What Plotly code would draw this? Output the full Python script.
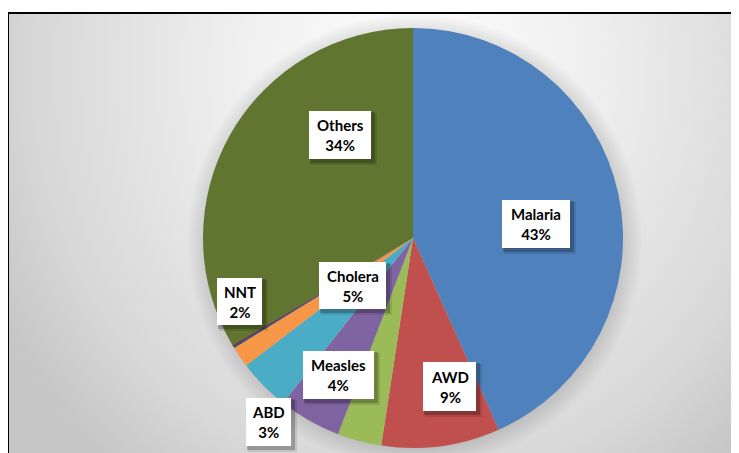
import base64
import plotly.graph_objects as go

# ---- data ----
categories = ["Malaria", "AWD", "ABD", "Cholera", "Measles", "NNT", "Unlabelled 1", "Unlabelled 2", "Others"]
values = [43.3, 9.1, 3.4, 4.8, 4.0, 1.6, 0.15, 0.12, 33.5]
colors = ["#4F81BD", "#C0504D", "#9BBB59", "#8064A2", "#4BACC6", "#F79646", "#2C4D75", "#772C2A", "#5F7530"]
label_names = ["Malaria", "AWD", "ABD", "Measles", "Cholera", "NNT", "Others"]
label_pcts = ["43%", "9%", "3%", "4%", "5%", "2%", "34%"]
# label box positions in screen pixels (x0, y0, x1, y1)
label_boxes = [(502, 200, 570, 248), (423, 362, 476, 411), (246, 398, 291, 446),
               (303, 351, 374, 399), (319, 262, 386, 309), (217, 278, 262, 325),
               (309, 111, 371, 159)]

OFF = 8  # page body margin
W, H = 739, 453
CX, CY, R = 413, 238, 210

def px(x):
    return (x - OFF) / W

def py(y):
    return 1 - (y - OFF) / H

svg = f'''<svg xmlns="http://www.w3.org/2000/svg" width="{W}" height="{H}" viewBox="{OFF} {OFF} {W} {H}">
<defs>
<radialGradient id="bg" gradientUnits="userSpaceOnUse" cx="413" cy="70" r="470" gradientTransform="translate(413 70) scale(1 1.1) translate(-413 -70)">
<stop offset="0" stop-color="#ffffff"/>
<stop offset="0.4" stop-color="#eeeeee"/>
<stop offset="0.8" stop-color="#d8d8d8"/>
<stop offset="1" stop-color="#c6c6c6"/>
</radialGradient>
<radialGradient id="sh" gradientUnits="userSpaceOnUse" cx="{CX+2}" cy="{CY+3}" r="{R+18}">
<stop offset="0.9" stop-color="#000000" stop-opacity="0.15"/>
<stop offset="1" stop-color="#000000" stop-opacity="0"/>
</radialGradient>
</defs>
<rect x="7" y="12" width="{W+10}" height="{H+10}" fill="url(#bg)"/>
<circle cx="{CX+2}" cy="{CY+3}" r="{R+18}" fill="url(#sh)"/>
</svg>'''
src = "data:image/svg+xml;base64," + base64.b64encode(svg.encode()).decode()

fig = go.Figure(go.Pie(
    labels=categories,
    values=values,
    sort=False,
    direction="clockwise",
    rotation=0,
    marker=dict(colors=colors, line=dict(width=0)),
    textinfo="none",
    hoverinfo="label+percent",
    showlegend=False,
    domain=dict(x=[px(CX - R), px(CX + R)], y=[py(CY + R), py(CY - R)]),
))

shapes = []
# chart frame
shapes.append(dict(type="rect", xref="paper", yref="paper", x0=px(8), y0=-0.02, x1=1.02, y1=py(13),
                   line=dict(color="black", width=2), fillcolor="rgba(0,0,0,0)", layer="above"))
annotations = []
for (x0, y0, x1, y1), name, pct in zip(label_boxes, label_names, label_pcts):
    shapes.append(dict(type="rect", xref="paper", yref="paper", x0=px(x0 + 2), y0=py(y1 + 6), x1=px(x1 + 6), y1=py(y0 + 2),
                       line=dict(width=0), fillcolor="rgba(0,0,0,0.10)", layer="above"))
    shapes.append(dict(type="rect", xref="paper", yref="paper", x0=px(x0 + 1), y0=py(y1 + 4), x1=px(x1 + 4), y1=py(y0 + 1),
                       line=dict(width=0), fillcolor="rgba(0,0,0,0.22)", layer="above"))
    shapes.append(dict(type="rect", xref="paper", yref="paper", x0=px(x0), y0=py(y1), x1=px(x1), y1=py(y0),
                       line=dict(width=0), fillcolor="white", layer="above"))
    annotations.append(dict(xref="paper", yref="paper", x=px((x0 + x1) / 2), y=py((y0 + y1) / 2),
                            text=f"<b>{name}<br>{pct}</b>", showarrow=False, xanchor="center", yanchor="middle",
                            align="center", font=dict(family="Lato, Open Sans, sans-serif", size=15, color="black")))

fig.update_layout(
    width=W, height=H,
    margin=dict(l=0, r=0, t=0, b=0),
    paper_bgcolor="white",
    plot_bgcolor="white",
    images=[dict(source=src, xref="paper", yref="paper", x=0, y=1, sizex=1, sizey=1,
                 xanchor="left", yanchor="top", sizing="stretch", layer="below")],
    shapes=shapes,
    annotations=annotations,
)

fig.write_html("out.html")
